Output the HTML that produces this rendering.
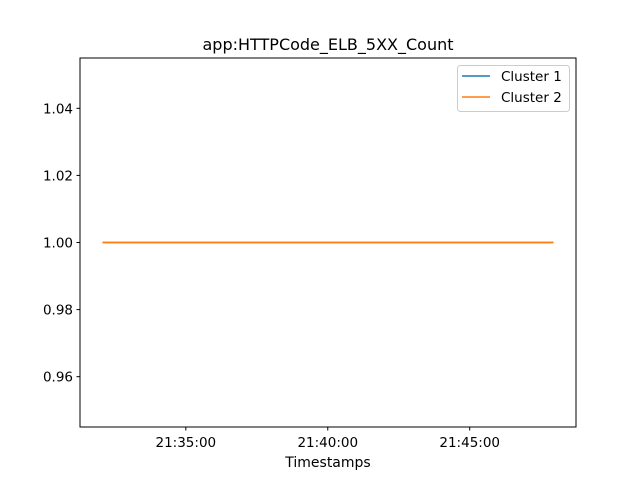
<!DOCTYPE html>
<html><head><meta charset="utf-8"><style>
body{margin:0;background:#fff;}
svg text{font-family:"DejaVu Sans","Liberation Sans",sans-serif;}
</style></head><body>
<svg id="chart" width="640" height="480" xmlns="http://www.w3.org/2000/svg">
<rect width="640" height="480" fill="#fff"/>
<text x="328" y="50" font-size="16" text-anchor="middle">app:HTTPCode_ELB_5XX_Count</text>
<g id="plot"></g>
<rect x="80" y="58" width="496" height="369" fill="none" stroke="#000" stroke-width="1"/>
<text x="328" y="467" font-size="14" text-anchor="middle">Timestamps</text>
<g>
<rect x="457.5" y="65.5" width="112" height="46" rx="3" fill="#fff" fill-opacity="0.8" stroke="#ccc"/>
<g>
<line x1="462" y1="76" x2="490" y2="76" stroke="#1f77b4" stroke-width="1.5"/>
<text x="501" y="81" font-size="13.5">Cluster 1</text></g>
<g>
<line x1="462" y1="97" x2="490" y2="97" stroke="#ff7f0e" stroke-width="1.5"/>
<text x="501" y="102" font-size="13.5">Cluster 2</text></g>
</g>
</svg>
<script>
// times in seconds since midnight
const timestamps=[77524,77584,77644,77704,77764,77824,77884,77944,78004,78064,78124,78184,78244,78304,78364,78424,78477];
const cluster1=[1,1,1,1,1,1,1,1,1,1,1,1,1,1,1,1,1];
const cluster2=[1,1,1,1,1,1,1,1,1,1,1,1,1,1,1,1,1];
const yTicks=[0.96,0.98,1.00,1.02,1.04];
const xTicks=[77700,78000,78300];
const xTickLabels=["21:35:00","21:40:00","21:45:00"];
const yMin=0.945,yMax=1.055;
const L=80,R=576,T=58,B=427;
const tMin=Math.min(...timestamps),tMax=Math.max(...timestamps),sp=tMax-tMin;
const x0=tMin-0.05*sp,x1=tMax+0.05*sp;
const xs=v=>L+(v-x0)/(x1-x0)*(R-L);
const ys=v=>B-(v-yMin)/(yMax-yMin)*(B-T);
const NS="http://www.w3.org/2000/svg",g=document.getElementById('plot');
function mk(t,a){const e=document.createElementNS(NS,t);for(const k in a)e.setAttribute(k,a[k]);g.appendChild(e);return e;}
yTicks.forEach(v=>{
 const y=ys(v);
 const l=mk('line',{x1:L-3.5,x2:L,y1:y,y2:y,stroke:'#000'});
 
 
 const t=mk('text',{x:L-7,y:y+5,'font-size':13.5,'text-anchor':'end'});t.textContent=v.toFixed(2);
 
 
});
xTicks.forEach((v,i)=>{
 const x=xs(v);
 const l=mk('line',{x1:x,x2:x,y1:B,y2:B+3.5,stroke:'#000'});
 
 
 const t=mk('text',{x:x,y:B+20,'font-size':13.5,'text-anchor':'middle'});t.textContent=xTickLabels[i];
 
 
});
[[cluster1,'#1f77b4','cluster-1-line'],[cluster2,'#ff7f0e','cluster-2-line']].forEach(([s,c,n])=>{
 const p=mk('polyline',{points:s.map((v,i)=>xs(timestamps[i])+','+ys(v)).join(' '),fill:'none',stroke:c,'stroke-width':1.5});
 
 
});
</script>
</body></html>
